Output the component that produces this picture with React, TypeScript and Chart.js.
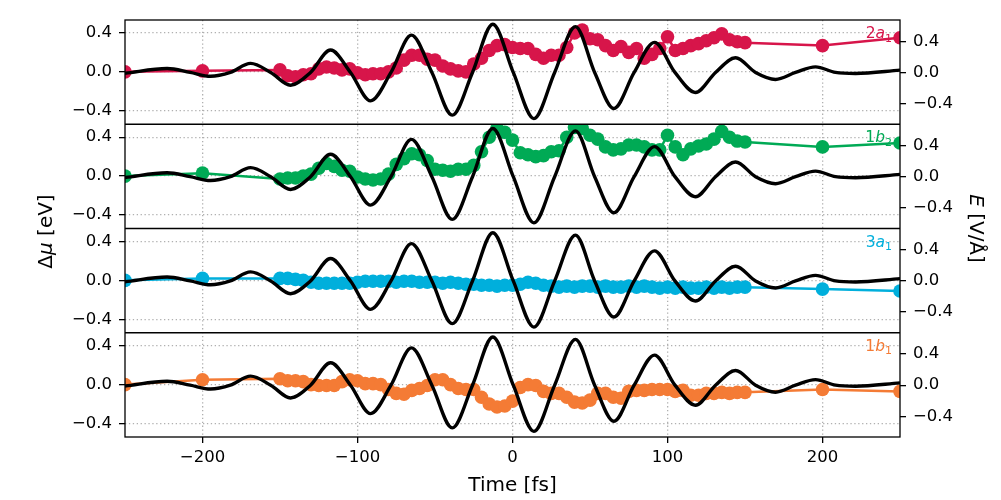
import React, { useEffect, useRef } from 'react';
import { Chart, registerables } from 'chart.js';

Chart.register(...registerables);

// ---------- data ----------
const TIME = [
  -250, -200,
  -150, -145, -140, -135, -130, -125, -120, -115, -110, -105,
  -100, -95, -90, -85, -80, -75, -70, -65, -60, -55,
  -50, -45, -40, -35, -30, -25, -20, -15, -10, -5,
  0, 5, 10, 15, 20, 25, 30, 35, 40, 45,
  50, 55, 60, 65, 70, 75, 80, 85, 90, 95,
  100, 105, 110, 115, 120, 125, 130, 135, 140, 145, 150,
  200, 250,
];

const MU_2A1 = [
  0.0, 0.01,
  0.02, -0.04, -0.05, -0.03, -0.02, 0.03, 0.05, 0.04, 0.02, 0.03,
  -0.01, -0.03, -0.02, -0.02, 0.0, 0.04, 0.12, 0.17, 0.17, 0.13,
  0.12, 0.06, 0.03, 0.01, 0.0, 0.08, 0.14, 0.22, 0.27, 0.28,
  0.25, 0.24, 0.24, 0.18, 0.14, 0.17, 0.17, 0.25, 0.40, 0.43,
  0.34, 0.33, 0.27, 0.22, 0.26, 0.20, 0.24, 0.14, 0.18, 0.24,
  0.36, 0.22, 0.24, 0.27, 0.29, 0.32, 0.35, 0.39, 0.33, 0.31, 0.30,
  0.27, 0.35,
];

const MU_1B2 = [
  0.0, 0.03,
  -0.03, -0.02, -0.02, 0.0, 0.02, 0.08, 0.13, 0.10, 0.06, 0.05,
  -0.01, -0.03, -0.04, -0.03, 0.02, 0.12, 0.18, 0.23, 0.22, 0.16,
  0.07, 0.06, 0.05, 0.07, 0.07, 0.11, 0.25, 0.40, 0.49, 0.45,
  0.37, 0.24, 0.22, 0.20, 0.21, 0.25, 0.26, 0.40, 0.50, 0.49,
  0.42, 0.38, 0.30, 0.27, 0.28, 0.32, 0.32, 0.30, 0.27, 0.27,
  0.42, 0.30, 0.22, 0.28, 0.31, 0.33, 0.38, 0.46, 0.40, 0.36, 0.35,
  0.30, 0.34,
];

const MU_3A1 = [
  0.0, 0.02,
  0.02, 0.02, 0.01, 0.0, -0.02, -0.03, -0.03, -0.03, -0.03, -0.03,
  -0.02, -0.01, -0.01, -0.01, -0.01, -0.02, -0.01, -0.01, -0.02, -0.02,
  -0.02, -0.03, -0.02, -0.03, -0.04, -0.04, -0.05, -0.05, -0.06, -0.05,
  -0.05, -0.04, -0.02, -0.03, -0.05, -0.06, -0.07, -0.06, -0.07, -0.06,
  -0.06, -0.07, -0.06, -0.07, -0.07, -0.06, -0.07, -0.06, -0.07, -0.08,
  -0.07, -0.08, -0.07, -0.08, -0.08, -0.07, -0.08, -0.07, -0.08, -0.07, -0.07,
  -0.09, -0.11,
];

const MU_1B1 = [
  0.0, 0.05,
  0.06, 0.04, 0.04, 0.03, 0.0, -0.01, -0.01, -0.01, 0.03, 0.05,
  0.04, 0.01, 0.01, 0.0, -0.05, -0.09, -0.10, -0.06, -0.04, -0.01,
  0.05, 0.05, 0.0, -0.04, -0.05, -0.05, -0.13, -0.20, -0.23, -0.22,
  -0.17, -0.03, 0.0, -0.01, -0.07, -0.09, -0.09, -0.13, -0.18, -0.19,
  -0.16, -0.09, -0.09, -0.13, -0.14, -0.07, -0.06, -0.06, -0.05, -0.05,
  -0.05, -0.07, -0.06, -0.11, -0.11, -0.09, -0.09, -0.08, -0.09, -0.08, -0.08,
  -0.05, -0.07,
];

// laser field E(t) read at its extrema and zero crossings
const FIELD_TIME = [
  -250, -222.8, -208, -194.8, -182, -169, -156, -143.2, -130.3, -117.4,
  -104.5, -91.6, -78.4, -65.2, -52, -38.9, -25.8, -12.7, 0.5, 13.8,
  27.2, 40.6, 53, 65.4, 78.5, 91.6, 104.8, 118, 131, 143.9,
  156.8, 169.7, 182.6, 195.5, 208.4, 221.3, 250,
];
const FIELD_VALUE = [
  -0.01, 0.05, 0, -0.05, 0, 0.116, 0, -0.164, 0, 0.288,
  0, -0.366, 0, 0.48, 0, -0.55, 0, 0.62, 0, -0.594,
  0, 0.59, 0, -0.465, 0, 0.387, 0, -0.258, 0, 0.189,
  0, -0.09, 0, 0.072, 0, -0.013, 0.03,
];

const SERIES = [MU_2A1, MU_1B2, MU_3A1, MU_1B1];
const LABEL_NUM = ['2', '1', '3', '1'];
const LABEL_LETTER = ['a', 'b', 'a', 'b'];
const LABEL_SUB = ['1', '2', '1', '1'];
const COLORS = ['#d7154a', '#00aa55', '#00afdc', '#f47b35'];

const X_TICKS = [-200, -100, 0, 100, 200];
const Y_TICKS = [-0.4, 0, 0.4];

const X_TITLE = 'Time [fs]';

// ---------- helpers ----------
const FONT = 'DejaVu Sans';
const MINUS = '\u2212';
const fmt1 = (v: number) => (v < -1e-9 ? MINUS : '') + Math.abs(v).toFixed(1);
const fmt0 = (v: number) => (v < -1e-9 ? MINUS : '') + Math.abs(v).toFixed(0);

type Run = { text: string; font: string; dy?: number };

function drawRuns(ctx: CanvasRenderingContext2D, runs: Run[], x: number, y: number, align: string, color: string) {
  let total = 0;
  const widths = runs.map((r) => {
    ctx.font = r.font;
    const w = ctx.measureText(r.text).width;
    total += w;
    return w;
  });
  let cx = align === 'center' ? x - total / 2 : align === 'right' ? x - total : x;
  ctx.textAlign = 'left';
  ctx.textBaseline = 'alphabetic';
  ctx.fillStyle = color;
  runs.forEach((r, i) => {
    ctx.font = r.font;
    ctx.fillText(r.text, cx, y + (r.dy || 0));
    cx += widths[i];
  });
}

const decorPlugin = {
  id: 'decor',
  afterDatasetsDraw(chart: any) {
    const ctx: CanvasRenderingContext2D = chart.ctx;
    const { left, right, top, bottom } = chart.chartArea;
    ctx.save();
    ctx.strokeStyle = '#000';
    ctx.lineWidth = 1.3;
    ctx.strokeRect(left, top, right - left, bottom - top);
    for (let i = 1; i < 4; i++) {
      const y = chart.scales['L' + i].top;
      ctx.beginPath();
      ctx.moveTo(left, y);
      ctx.lineTo(right, y);
      ctx.stroke();
    }
    // orbital labels
    for (let i = 0; i < 4; i++) {
      const pTop = chart.scales['L' + i].top;
      drawRuns(
        ctx,
        [
          { text: LABEL_NUM[i], font: `15.5px "${FONT}"` },
          { text: LABEL_LETTER[i], font: `italic 15.5px "${FONT}"` },
          { text: LABEL_SUB[i], font: `11px "${FONT}"`, dy: 3.5 },
        ],
        892,
        pTop + 18,
        'right',
        COLORS[i]
      );
    }
    ctx.restore();
  },
  afterDraw(chart: any) {
    const ctx: CanvasRenderingContext2D = chart.ctx;
    const { left, right, top, bottom } = chart.chartArea;
    const midY = (top + bottom) / 2;
    ctx.save();
    // x title
    drawRuns(ctx, [{ text: X_TITLE, font: `20px "${FONT}"` }], (left + right) / 2, 491, 'center', '#000');
    // left title
    ctx.save();
    ctx.translate(52, midY + 3);
    ctx.rotate(-Math.PI / 2);
    drawRuns(
      ctx,
      [
        { text: '\u0394', font: `20px "${FONT}"` },
        { text: '\u03bc', font: `italic 20px "${FONT}"` },
        { text: ' [eV]', font: `20px "${FONT}"` },
      ],
      0,
      0,
      'center',
      '#000'
    );
    ctx.restore();
    // right title
    ctx.save();
    ctx.translate(970, midY);
    ctx.rotate(Math.PI / 2);
    drawRuns(
      ctx,
      [
        { text: 'E', font: `italic 20px "${FONT}"` },
        { text: ' [V/\u00c5]', font: `20px "${FONT}"` },
      ],
      0,
      0,
      'center',
      '#000'
    );
    ctx.restore();
    ctx.restore();
  },
};

export default function App() {
  const canvasRef = useRef<HTMLCanvasElement | null>(null);

  useEffect(() => {
    if (!canvasRef.current) return;
    Chart.defaults.font.family = FONT;

    const datasets: any[] = [];
    for (let i = 0; i < 4; i++) {
      datasets.push({
        data: FIELD_TIME.map((t, k) => ({ x: t, y: FIELD_VALUE[k] })),
        yAxisID: 'R' + i,
        borderColor: '#000',
        borderWidth: 3.4,
        pointRadius: 0,
        cubicInterpolationMode: 'monotone',
        order: 0,
      });
      datasets.push({
        data: TIME.map((t, k) => ({ x: t, y: SERIES[i][k] })),
        yAxisID: 'L' + i,
        borderColor: COLORS[i],
        backgroundColor: COLORS[i],
        borderWidth: 2.5,
        pointRadius: 6.8,
        pointBorderWidth: 0,
        pointBackgroundColor: COLORS[i],
        tension: 0,
        order: 1,
      });
    }

    const gridCommon = {
      color: '#b0b0b0',
      lineWidth: 1.3,
      tickColor: '#000',
      tickLength: 6,
      tickWidth: 1.3,
    };
    const tickFont = { size: 16.5, family: FONT };

    const scales: any = {
      x: {
        type: 'linear',
        position: 'bottom',
        min: -250,
        max: 250,
        afterBuildTicks: (s: any) => {
          s.ticks = X_TICKS.map((v) => ({ value: v }));
        },
        afterFit: (s: any) => {
          s.height = 63;
        },
        ticks: {
          callback: (v: any) => fmt0(Number(v)),
          font: tickFont,
          color: '#000',
          padding: 5,
          maxRotation: 0,
          autoSkip: false,
        },
        grid: gridCommon,
        border: { display: false, dash: [1.3, 2.6] },
      },
    };
    for (let i = 0; i < 4; i++) {
      scales['L' + i] = {
        type: 'linear',
        position: 'left',
        stack: 'left',
        stackWeight: 1,
        weight: 4 - i,
        min: -0.539,
        max: 0.533,
        afterBuildTicks: (s: any) => {
          s.ticks = Y_TICKS.map((v) => ({ value: v }));
        },
        afterFit: (s: any) => {
          s.width = 125;
        },
        ticks: { callback: (v: any) => fmt1(Number(v)), font: tickFont, color: '#000', padding: 7, autoSkip: false },
        grid: gridCommon,
        border: { display: false, dash: [1.3, 2.6] },
      };
      scales['R' + i] = {
        type: 'linear',
        position: 'right',
        stack: 'right',
        stackWeight: 1,
        weight: i + 1,
        min: -0.667,
        max: 0.675,
        afterBuildTicks: (s: any) => {
          s.ticks = Y_TICKS.map((v) => ({ value: v }));
        },
        afterFit: (s: any) => {
          s.width = 101;
        },
        ticks: { callback: (v: any) => fmt1(Number(v)), font: tickFont, color: '#000', padding: 7, autoSkip: false },
        grid: { ...gridCommon, drawOnChartArea: false },
        border: { display: false },
      };
    }

    const chart = new Chart(canvasRef.current, {
      type: 'line',
      data: { datasets },
      options: {
        responsive: false,
        animation: false,
        parsing: true,
        layout: { padding: { top: 20, left: 0, right: 0, bottom: 0 } },
        plugins: { legend: { display: false }, tooltip: { enabled: false } },
        scales,
      } as any,
      plugins: [decorPlugin],
    });
    return () => chart.destroy();
  }, []);

  return (
    <div style={{ position: 'fixed', left: 0, top: 0, width: 1001, height: 500, background: '#fff' }}>
      <canvas ref={canvasRef} width={1001} height={500} style={{ display: 'block' }} />
    </div>
  );
}
